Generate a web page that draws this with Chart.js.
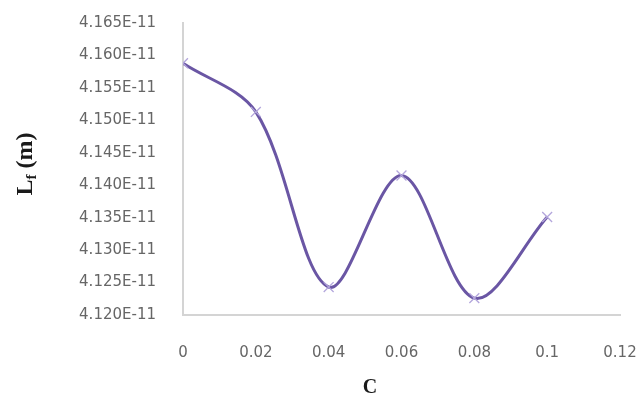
<!DOCTYPE html>
<html>
<head>
<meta charset="utf-8">
<script src="https://cdn.jsdelivr.net/npm/chart.js@4"></script>
<style>
  html, body { margin: 0; padding: 0; background: #fff; }
  #wrap { width: 637px; height: 400px; position: relative; }
</style>
</head>
<body>
<div id="wrap"><canvas id="c" width="637" height="400"></canvas></div>
<script>
// Data (Lf in units of 1E-11 m)
const cValues = [0, 0.02, 0.04, 0.06, 0.08, 0.1];
const lfValuesE11 = [4.1588, 4.1513, 4.1243, 4.1415, 4.1226, 4.1351];
const xTickLabels = ['0', '0.02', '0.04', '0.06', '0.08', '0.1', '0.12'];
const yTickLabels = ['4.120E-11','4.125E-11','4.130E-11','4.135E-11','4.140E-11','4.145E-11','4.150E-11','4.155E-11','4.160E-11','4.165E-11'];
const xTitle = 'C';
const yTitleMain = 'L';
const yTitleSub = 'f';
const yTitleUnit = ' (m)';

const points = cValues.map((c, i) => ({ x: c, y: lfValuesE11[i] }));

const titlesPlugin = {
  id: 'titles',
  afterDraw(chart) {
    const ctx = chart.ctx;
    ctx.save();
    ctx.fillStyle = '#1a1a1a';
    // X title
    ctx.font = 'bold 20px "Liberation Serif"';
    ctx.textAlign = 'center';
    ctx.textBaseline = 'middle';
    ctx.fillText(xTitle, 370, 388);
    // Y title (rotated, with subscript)
    ctx.translate(24, 164);
    ctx.rotate(-Math.PI / 2);
    const mainFont = 'bold 24px "Liberation Serif"';
    const subFont = 'bold 15px "Liberation Serif"';
    ctx.font = mainFont;
    const wL = ctx.measureText(yTitleMain).width;
    const wU = ctx.measureText(yTitleUnit).width;
    ctx.font = subFont;
    const wS = ctx.measureText(yTitleSub).width;
    const total = wL + wS + wU;
    let x = -total / 2;
    ctx.textAlign = 'left';
    ctx.textBaseline = 'alphabetic';
    ctx.font = mainFont;
    ctx.fillText(yTitleMain, x, 8);
    x += wL;
    ctx.font = subFont;
    ctx.fillText(yTitleSub, x, 12);
    x += wS;
    ctx.font = mainFont;
    ctx.fillText(yTitleUnit, x, 8);
    ctx.restore();
  }
};

new Chart(document.getElementById('c'), {
  type: 'line',
  data: {
    datasets: [{
      data: points,
      borderColor: '#6a56a4',
      borderWidth: 3,
      tension: 0.33,
      pointStyle: 'crossRot',
      pointRadius: 7,
      pointBorderColor: '#b3a6dc',
      pointBorderWidth: 1.3,
      pointBackgroundColor: '#b3a6dc',
      fill: false
    }]
  },
  options: {
    responsive: false,
    animation: false,
    events: [],
    layout: { padding: { left: 0, right: 17, top: 23, bottom: 0 } },
    plugins: { legend: { display: false }, tooltip: { enabled: false } },
    scales: {
      x: {
        type: 'linear',
        min: 0, max: 0.12,
        grid: { display: false },
        border: { display: true, color: '#d4d4d4', width: 2 },
        afterFit(s) { s.height = 85; s.paddingLeft = 0; s.paddingRight = 0; },
        ticks: {
          stepSize: 0.02,
          padding: 21,
          color: '#666',
          font: { family: '"DejaVu Sans"', size: 15 },
          callback: (v) => xTickLabels[Math.round(v / 0.02)]
        }
      },
      y: {
        type: 'linear',
        min: 4.120, max: 4.165,
        grid: { display: false },
        border: { display: true, color: '#d4d4d4', width: 2 },
        afterFit(s) { s.width = 183; s.paddingTop = 0; s.paddingBottom = 0; },
        ticks: {
          stepSize: 0.005,
          padding: 19,
          color: '#666',
          font: { family: '"DejaVu Sans"', size: 15 },
          callback: (v) => yTickLabels[Math.round((v - 4.120) / 0.005)]
        }
      }
    }
  },
  plugins: [titlesPlugin]
});
</script>
</body>
</html>
